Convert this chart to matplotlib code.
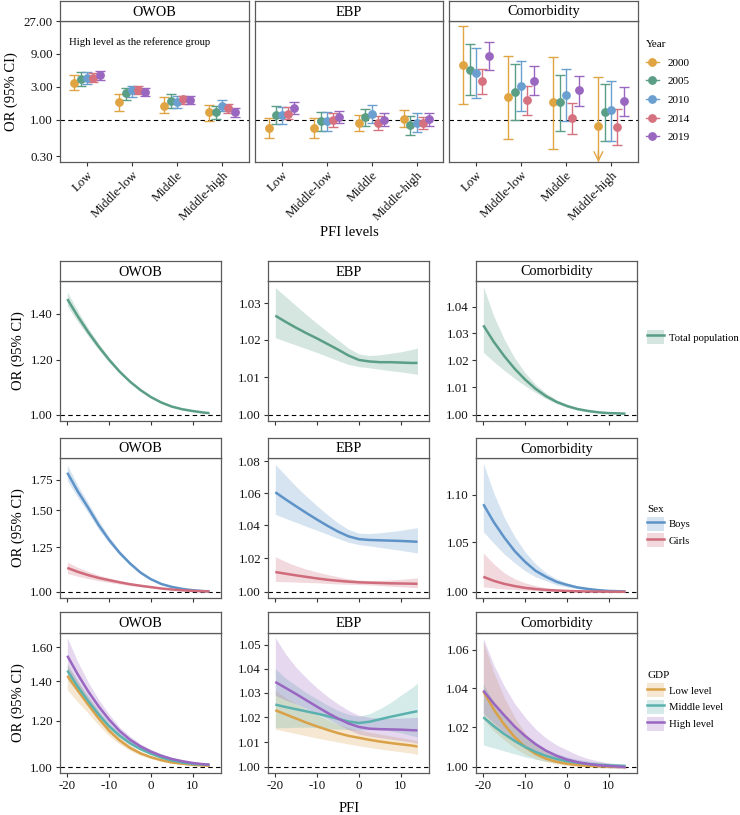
import numpy as np
import matplotlib
matplotlib.use('Agg')
import matplotlib.pyplot as plt
from matplotlib.lines import Line2D
from matplotlib.patches import Patch
from matplotlib.ticker import FixedLocator, NullLocator, FixedFormatter

plt.rcParams['font.family'] = ['Liberation Serif', 'DejaVu Serif']
plt.rcParams['font.size'] = 9

# ---------------- data: top row (OR by PFI level and year) ----------------
outcomes = ['OWOB', 'EBP', 'Comorbidity']
pfi_levels = ['Low', 'Middle-low', 'Middle', 'Middle-high']
years = ['2000', '2005', '2010', '2014', '2019']
year_colors = ['#E0A443', '#5A9E85', '#6A9FD0', '#D6717F', '#9A67C0']

owob_or = [[3.48, 1.82, 1.62, 1.29], [3.93, 2.42, 1.88, 1.30], [4.02, 2.67, 1.84, 1.59],
           [4.10, 2.73, 1.98, 1.47], [4.49, 2.58, 1.96, 1.29]]
owob_lo = [[2.70, 1.36, 1.25, 0.98], [3.12, 1.96, 1.49, 1.045], [3.30, 2.17, 1.49, 1.33],
           [3.50, 2.34, 1.72, 1.27], [3.84, 2.24, 1.72, 1.12]]
owob_hi = [[4.49, 2.34, 2.12, 1.66], [5.00, 2.95, 2.34, 1.61], [4.90, 3.15, 2.24, 1.94],
           [4.80, 3.09, 2.26, 1.70], [5.10, 2.95, 2.24, 1.50]]

ebp_or = [[0.776, 0.767, 0.916, 1.045], [1.18, 0.957, 1.092, 0.838], [1.18, 0.957, 1.23, 0.916],
          [1.23, 1.00, 0.916, 0.916], [1.47, 1.092, 1.011, 1.033]]
ebp_lo = [[0.557, 0.557, 0.702, 0.793], [0.876, 0.694, 0.82, 0.609], [0.876, 0.694, 0.916, 0.672],
          [1.02, 0.784, 0.718, 0.734], [1.23, 0.896, 0.82, 0.829]]
ebp_hi = [[1.056, 1.056, 1.18, 1.377], [1.59, 1.32, 1.456, 1.13], [1.52, 1.32, 1.64, 1.26],
          [1.52, 1.247, 1.14, 1.116], [1.84, 1.36, 1.247, 1.26]]

com_or = [[6.18, 2.12, 1.80, 0.82], [5.35, 2.56, 1.80, 1.29], [4.80, 3.09, 2.31, 1.38],
          [3.64, 1.96, 1.06, 0.80], [8.42, 3.72, 2.67, 1.88]]
com_lo = [[1.68, 0.527, 0.38, 0.15], [2.29, 1.00, 0.69, 0.49], [2.10, 1.35, 0.96, 0.50],
          [2.34, 1.19, 0.62, 0.43], [5.35, 2.29, 1.62, 1.13]]
com_hi = [[22.7, 8.42, 8.15, 4.25], [12.5, 6.50, 4.54, 3.33], [11.0, 7.06, 5.47, 3.64],
          [5.55, 3.09, 1.76, 1.46], [13.2, 6.00, 4.35, 3.02]]

top_yticks = [0.3, 1, 3, 9, 27]
top_ylabels = ['0.30', '1.00', '3.00', '9.00', '27.00']

# ---------------- data: dose-response curves ----------------
pfi = [-20, -17.5, -15, -12.5, -10, -7.5, -5, -2.5, 0, 2.5, 5, 7.5, 10, 12.5, 14]

# Total population
tot_owob = [1.469, 1.387, 1.316, 1.254, 1.200, 1.154, 1.116, 1.085, 1.060, 1.041, 1.027, 1.018, 1.012, 1.007, 1.005]
tot_owob_hi = [1.505, 1.412, 1.334, 1.267, 1.209, 1.160, 1.120, 1.088, 1.063, 1.044, 1.029, 1.020, 1.014, 1.009, 1.007]
tot_owob_lo = [1.435, 1.362, 1.298, 1.241, 1.191, 1.148, 1.112, 1.082, 1.057, 1.038, 1.025, 1.016, 1.010, 1.005, 1.003]
tot_ebp = [1.0266, 1.0249, 1.0233, 1.0218, 1.0204, 1.0189, 1.0174, 1.0158, 1.0146, 1.0142, 1.0140, 1.0140, 1.0139, 1.0138, 1.0138]
tot_ebp_hi = [1.0343, 1.0318, 1.0293, 1.0268, 1.0245, 1.0222, 1.0200, 1.0178, 1.0162, 1.0158, 1.0160, 1.0164, 1.0168, 1.0174, 1.0178]
tot_ebp_lo = [1.0206, 1.0196, 1.0186, 1.0176, 1.0166, 1.0155, 1.0144, 1.0134, 1.0128, 1.0125, 1.0121, 1.0117, 1.0114, 1.0110, 1.0107]
tot_com = [1.033, 1.0268, 1.0215, 1.0168, 1.0128, 1.0094, 1.0067, 1.0046, 1.0031, 1.0020, 1.0013, 1.0008, 1.0005, 1.0004, 1.0003]
tot_com_hi = [1.0477, 1.0365, 1.0278, 1.0208, 1.0153, 1.0110, 1.0078, 1.0054, 1.0037, 1.0025, 1.0016, 1.0010, 1.0007, 1.0005, 1.0004]
tot_com_lo = [1.0229, 1.0194, 1.0162, 1.0132, 1.0105, 1.0080, 1.0058, 1.0040, 1.0026, 1.0016, 1.0010, 1.0006, 1.0004, 1.0003, 1.0002]

# Sex
boys_owob = [1.81, 1.650, 1.520, 1.395, 1.295, 1.215, 1.152, 1.101, 1.065, 1.040, 1.025, 1.015, 1.008, 1.004, 1.003]
boys_owob_hi = [1.88, 1.700, 1.558, 1.425, 1.315, 1.228, 1.162, 1.108, 1.069, 1.043, 1.027, 1.017, 1.010, 1.006, 1.005]
boys_owob_lo = [1.74, 1.600, 1.482, 1.365, 1.275, 1.202, 1.142, 1.094, 1.061, 1.037, 1.023, 1.013, 1.006, 1.003, 1.001]
girls_owob = [1.127, 1.105, 1.087, 1.072, 1.060, 1.049, 1.039, 1.031, 1.024, 1.017, 1.012, 1.008, 1.005, 1.003, 1.002]
girls_owob_hi = [1.16, 1.13, 1.107, 1.087, 1.072, 1.058, 1.046, 1.036, 1.028, 1.020, 1.014, 1.010, 1.007, 1.005, 1.004]
girls_owob_lo = [1.096, 1.081, 1.068, 1.057, 1.048, 1.040, 1.032, 1.026, 1.020, 1.014, 1.010, 1.006, 1.003, 1.001, 1.000]
boys_ebp = [1.0605, 1.0560, 1.0517, 1.0475, 1.0435, 1.0397, 1.0362, 1.0333, 1.0316, 1.0311, 1.0309, 1.0307, 1.0305, 1.0302, 1.0300]
boys_ebp_hi = [1.078, 1.071, 1.064, 1.0578, 1.052, 1.0465, 1.0415, 1.0375, 1.0352, 1.0350, 1.0355, 1.0362, 1.0370, 1.0380, 1.0386]
boys_ebp_lo = [1.0468, 1.0442, 1.0418, 1.0393, 1.0370, 1.0345, 1.0320, 1.0297, 1.0283, 1.0275, 1.0266, 1.0257, 1.0248, 1.0238, 1.0232]
girls_ebp = [1.0118, 1.0108, 1.0098, 1.0089, 1.0080, 1.0072, 1.0066, 1.0061, 1.0057, 1.0055, 1.0053, 1.0051, 1.0050, 1.0049, 1.0048]
girls_ebp_hi = [1.021, 1.018, 1.0155, 1.0135, 1.0118, 1.0103, 1.0090, 1.0078, 1.0070, 1.0068, 1.0069, 1.0071, 1.0075, 1.0080, 1.0084]
girls_ebp_lo = [1.0062, 1.0060, 1.0058, 1.0056, 1.0054, 1.0050, 1.0047, 1.0045, 1.0044, 1.0041, 1.0038, 1.0034, 1.0031, 1.0027, 1.0025]
boys_com = [1.090, 1.071, 1.055, 1.041, 1.030, 1.021, 1.015, 1.010, 1.007, 1.0045, 1.003, 1.0018, 1.001, 1.0007, 1.0005]
boys_com_hi = [1.135, 1.102, 1.076, 1.056, 1.040, 1.028, 1.019, 1.013, 1.009, 1.0058, 1.0038, 1.0024, 1.0015, 1.0010, 1.0008]
boys_com_lo = [1.061, 1.049, 1.038, 1.029, 1.021, 1.015, 1.011, 1.007, 1.005, 1.0032, 1.0022, 1.0012, 1.0006, 1.0004, 1.0002]
girls_com = [1.015, 1.011, 1.008, 1.0058, 1.004, 1.0029, 1.002, 1.0014, 1.001, 1.0007, 1.0005, 1.0004, 1.0003, 1.0002, 1.0002]
girls_com_hi = [1.039, 1.028, 1.019, 1.013, 1.009, 1.0062, 1.0043, 1.003, 1.0021, 1.0015, 1.0011, 1.0008, 1.0006, 1.0005, 1.0004]
girls_com_lo = [1.005, 1.004, 1.003, 1.0024, 1.0018, 1.0013, 1.0009, 1.0006, 1.0004, 1.0002, 1.0001, 1.0001, 1.0000, 1.0000, 1.0000]

# GDP
low_owob = [1.43, 1.35, 1.277, 1.210, 1.153, 1.110, 1.078, 1.055, 1.039, 1.027, 1.018, 1.013, 1.009, 1.006, 1.005]
low_owob_hi = [1.49, 1.40, 1.315, 1.240, 1.175, 1.126, 1.089, 1.063, 1.045, 1.031, 1.021, 1.015, 1.011, 1.008, 1.007]
low_owob_lo = [1.354, 1.29, 1.235, 1.178, 1.130, 1.094, 1.067, 1.047, 1.033, 1.023, 1.015, 1.010, 1.007, 1.004, 1.003]
mid_owob = [1.46, 1.37, 1.294, 1.228, 1.173, 1.131, 1.098, 1.073, 1.054, 1.038, 1.026, 1.018, 1.012, 1.010, 1.009]
mid_owob_hi = [1.50, 1.40, 1.32, 1.25, 1.19, 1.145, 1.108, 1.081, 1.060, 1.042, 1.030, 1.021, 1.015, 1.012, 1.011]
mid_owob_lo = [1.41, 1.34, 1.27, 1.206, 1.157, 1.120, 1.089, 1.066, 1.048, 1.034, 1.022, 1.015, 1.009, 1.007, 1.006]
high_owob = [1.547, 1.438, 1.345, 1.268, 1.204, 1.152, 1.113, 1.084, 1.062, 1.045, 1.032, 1.023, 1.016, 1.011, 1.009]
high_owob_hi = [1.66, 1.51, 1.395, 1.302, 1.230, 1.170, 1.128, 1.095, 1.072, 1.053, 1.038, 1.028, 1.020, 1.015, 1.013]
high_owob_lo = [1.45, 1.365, 1.298, 1.233, 1.178, 1.134, 1.098, 1.073, 1.053, 1.038, 1.027, 1.018, 1.012, 1.006, 1.005]
low_ebp = [1.0229, 1.0212, 1.0195, 1.0178, 1.0163, 1.0149, 1.0136, 1.0125, 1.0117, 1.0109, 1.0102, 1.0096, 1.0091, 1.0086, 1.0082]
low_ebp_hi = [1.031, 1.028, 1.0255, 1.0232, 1.021, 1.019, 1.0172, 1.0158, 1.0148, 1.0140, 1.0132, 1.0125, 1.0118, 1.0110, 1.0105]
low_ebp_lo = [1.0152, 1.0143, 1.0134, 1.0125, 1.0116, 1.0108, 1.0100, 1.0092, 1.0085, 1.0078, 1.0072, 1.0066, 1.0061, 1.0055, 1.0050]
mid_ebp = [1.0252, 1.0242, 1.0233, 1.0224, 1.0215, 1.0205, 1.0194, 1.0183, 1.0177, 1.0182, 1.0192, 1.0202, 1.0211, 1.0220, 1.0225]
mid_ebp_hi = [1.040, 1.036, 1.033, 1.030, 1.0275, 1.025, 1.0228, 1.0212, 1.0205, 1.0215, 1.0235, 1.026, 1.029, 1.032, 1.034]
mid_ebp_lo = [1.0158, 1.0158, 1.0160, 1.0160, 1.0158, 1.0155, 1.0152, 1.0150, 1.0148, 1.0150, 1.0150, 1.0145, 1.0137, 1.0127, 1.0120]
high_ebp = [1.0345, 1.032, 1.0295, 1.0269, 1.0243, 1.0218, 1.0195, 1.0175, 1.0161, 1.0154, 1.0152, 1.0151, 1.0150, 1.0148, 1.0147]
high_ebp_hi = [1.053, 1.046, 1.0405, 1.036, 1.032, 1.0285, 1.0255, 1.0228, 1.0208, 1.0200, 1.0196, 1.0196, 1.0197, 1.0199, 1.0200]
high_ebp_lo = [1.029, 1.027, 1.0255, 1.0235, 1.0215, 1.0195, 1.0172, 1.0150, 1.0132, 1.0124, 1.0118, 1.0112, 1.0106, 1.0100, 1.0095]
low_com = [1.0383, 1.0290, 1.0213, 1.0150, 1.0100, 1.0065, 1.0041, 1.0026, 1.0016, 1.0010, 1.0006, 1.0004, 1.0002, 1.0001, 1.0000]
low_com_hi = [1.064, 1.048, 1.035, 1.025, 1.017, 1.0115, 1.0078, 1.0053, 1.0037, 1.0026, 1.0019, 1.0014, 1.0010, 1.0008, 1.0007]
low_com_lo = [1.024, 1.018, 1.0135, 1.0095, 1.0063, 1.0041, 1.0026, 1.0015, 1.0008, 1.0003, 1.0000, 0.9997, 0.9995, 0.9993, 0.9992]
mid_com = [1.025, 1.0205, 1.0165, 1.013, 1.0100, 1.0075, 1.0055, 1.0040, 1.0029, 1.0021, 1.0015, 1.0011, 1.0008, 1.0006, 1.0005]
mid_com_hi = [1.042, 1.033, 1.026, 1.020, 1.0155, 1.0118, 1.0088, 1.0066, 1.005, 1.0038, 1.003, 1.0024, 1.002, 1.0017, 1.0015]
mid_com_lo = [1.011, 1.0095, 1.008, 1.0065, 1.005, 1.0038, 1.0028, 1.002, 1.0013, 1.0008, 1.0004, 1.0001, 0.9999, 0.9997, 0.9996]
high_com = [1.0387, 1.032, 1.026, 1.0203, 1.0155, 1.0114, 1.0081, 1.0056, 1.0037, 1.0024, 1.0015, 1.0009, 1.0005, 1.0002, 1.0000]
high_com_hi = [1.066, 1.052, 1.041, 1.032, 1.025, 1.019, 1.0145, 1.011, 1.0085, 1.006, 1.0042, 1.003, 1.002, 1.0014, 1.001]
high_com_lo = [1.027, 1.022, 1.0175, 1.0135, 1.0102, 1.0075, 1.0052, 1.0035, 1.0022, 1.0012, 1.0005, 1.0000, 0.9996, 0.9993, 0.999]

total_label = 'Total population'
sex_labels = ['Boys', 'Girls']
gdp_labels = ['Low level', 'Middle level', 'High level']
total_color = '#5A9E85'
sex_colors = ['#5E93C8', '#CF6B7B']
gdp_colors = ['#D9A148', '#5BB1AE', '#9966C2']

# y ticks for curve panels
row_yticks = {
    'total': ([1.00, 1.20, 1.40], [1.00, 1.01, 1.02, 1.03], [1.00, 1.01, 1.02, 1.03, 1.04]),
    'sex': ([1.00, 1.25, 1.50, 1.75], [1.00, 1.02, 1.04, 1.06, 1.08], [1.00, 1.05, 1.10]),
    'gdp': ([1.00, 1.20, 1.40, 1.60], [1.00, 1.01, 1.02, 1.03, 1.04, 1.05], [1.00, 1.02, 1.04, 1.06]),
}
row_ylims = {
    'total': ((0.979, 1.56), (0.99829, 1.0361), (0.99764, 1.0498)),
    'sex': ((0.970, 1.948), (0.99645, 1.0821), (0.9941, 1.1406)),
    'gdp': ((0.9768, 1.6913), (0.9976, 1.0549), (0.99702, 1.0688)),
}
x_ticks = [-20, -10, 0, 10]

# ---------------- layout ----------------
W, H = 740, 815
fig = plt.figure(figsize=(W / 100, H / 100), dpi=100)
BORDER = '#5a5a5a'
TICKC = '#333333'
STRIP_FS = 10.3
YLAB_FS = 10.5
LEG_FS = 7.7


def ax_px(x0, x1, y0, y1):
    return fig.add_axes([x0 / W, 1 - y1 / H, (x1 - x0) / W, (y1 - y0) / H])


def style_axes(ax):
    for sp in ax.spines.values():
        sp.set_color(BORDER)
        sp.set_linewidth(0.9)
    ax.tick_params(direction='out', length=3, width=0.8, color=TICKC, labelsize=9.3,
                   labelcolor='#111111', pad=2)


def strip(x0, x1, y0, y1, label):
    s = ax_px(x0, x1, y0, y1)
    s.set_xticks([])
    s.set_yticks([])
    for sp in s.spines.values():
        sp.set_color(BORDER)
        sp.set_linewidth(0.9)
    s.text(0.5, 0.45, label, ha='center', va='center', fontsize=STRIP_FS, transform=s.transAxes)


# ---- top row ----
top_cols = [(60, 249), (255, 443.5), (449, 638)]
top_y = (21, 162)
top_data = [(owob_or, owob_lo, owob_hi), (ebp_or, ebp_lo, ebp_hi), (com_or, com_lo, com_hi)]
offsets = [-0.28, -0.14, 0.0, 0.14, 0.28]
ymin_top, ymax_top = 0.247, 27
for j, (x0, x1) in enumerate(top_cols):
    ax = ax_px(x0, x1, top_y[0], top_y[1])
    strip(x0, x1, 1, top_y[0], outcomes[j])
    est, lo, hi = top_data[j]
    ax.set_yscale('log')
    ax.set_xlim(0.4, 4.6)
    ax.set_ylim(ymin_top, ymax_top)
    ax.axhline(1, color='black', ls=(0, (4, 3)), lw=0.8, zorder=1)
    for k in range(len(years)):
        xs = np.arange(1, len(pfi_levels) + 1) + offsets[k]
        e = np.array(est[k]); l = np.array(lo[k]); h = np.array(hi[k])
        ax.errorbar(xs, e, yerr=[e - l, h - e], fmt='o', color=year_colors[k], ms=5.3,
                    capsize=3.5, elinewidth=1.0, capthick=1.0, zorder=3)
        for xi, li, ei in zip(xs, l, e):
            if li < ymin_top:
                ax.annotate('', xy=(xi, ymin_top), xytext=(xi, ymin_top * 1.45),
                            arrowprops=dict(arrowstyle='->,head_length=0.7,head_width=0.35',
                                            color=year_colors[k], lw=1.0, shrinkA=0, shrinkB=0),
                            annotation_clip=False)
    ax.set_xticks(range(1, len(pfi_levels) + 1))
    ax.set_xticklabels(pfi_levels, rotation=45, ha='right', rotation_mode='anchor')
    ax.yaxis.set_major_locator(FixedLocator(top_yticks))
    ax.yaxis.set_minor_locator(NullLocator())
    style_axes(ax)
    if j == 0:
        ax.yaxis.set_major_formatter(FixedFormatter(top_ylabels))
        ax.set_ylabel('OR (95% CI)', fontsize=YLAB_FS, labelpad=4)
        ax.text(0.05, 0.85, 'High level as the reference group', transform=ax.transAxes,
                fontsize=7.7, ha='left', va='center')
    else:
        ax.set_yticklabels([])
        ax.tick_params(axis='y', length=0)

fig.text(349 / W, 1 - 233 / H, 'PFI levels', ha='center', va='center', fontsize=10.5)

yh = [Line2D([0], [0], color=c, marker='o', ms=5.3, lw=1.0) for c in year_colors]
fig.legend(yh, years, title='Year', loc='upper left', bbox_to_anchor=(646 / W, 1 - 40 / H),
           frameon=False, fontsize=LEG_FS + 0.3, title_fontsize=LEG_FS + 0.3, handlelength=1.15,
           handletextpad=0.8, labelspacing=0.8, borderpad=0, borderaxespad=0, alignment='left')

# ---- curve rows ----
cols = [(60, 221), (268, 429), (476, 637)]
rows = [('total', 261, 281, 421), ('sex', 438, 458, 598), ('gdp', 612, 633, 773)]
row_series = {
    'total': [[(tot_owob, tot_owob_lo, tot_owob_hi, total_color)],
              [(tot_ebp, tot_ebp_lo, tot_ebp_hi, total_color)],
              [(tot_com, tot_com_lo, tot_com_hi, total_color)]],
    'sex': [[(boys_owob, boys_owob_lo, boys_owob_hi, sex_colors[0]),
             (girls_owob, girls_owob_lo, girls_owob_hi, sex_colors[1])],
            [(boys_ebp, boys_ebp_lo, boys_ebp_hi, sex_colors[0]),
             (girls_ebp, girls_ebp_lo, girls_ebp_hi, sex_colors[1])],
            [(boys_com, boys_com_lo, boys_com_hi, sex_colors[0]),
             (girls_com, girls_com_lo, girls_com_hi, sex_colors[1])]],
    'gdp': [[(low_owob, low_owob_lo, low_owob_hi, gdp_colors[0]),
             (mid_owob, mid_owob_lo, mid_owob_hi, gdp_colors[1]),
             (high_owob, high_owob_lo, high_owob_hi, gdp_colors[2])],
            [(low_ebp, low_ebp_lo, low_ebp_hi, gdp_colors[0]),
             (mid_ebp, mid_ebp_lo, mid_ebp_hi, gdp_colors[1]),
             (high_ebp, high_ebp_lo, high_ebp_hi, gdp_colors[2])],
            [(low_com, low_com_lo, low_com_hi, gdp_colors[0]),
             (mid_com, mid_com_lo, mid_com_hi, gdp_colors[1]),
             (high_com, high_com_lo, high_com_hi, gdp_colors[2])]],
}

for key, ys, yt, yb in rows:
    for j, (x0, x1) in enumerate(cols):
        ax = ax_px(x0, x1, yt, yb)
        strip(x0, x1, ys, yt, outcomes[j])
        ax.set_yscale('log')
        ax.set_xlim(-21.75, 16.75)
        ax.set_ylim(*row_ylims[key][j])
        ax.axhline(1, color='black', ls=(0, (4, 3)), lw=0.8, zorder=1)
        series = row_series[key][j]
        for est, lo, hi, c in series:
            ax.fill_between(pfi, lo, hi, color=c, alpha=0.25, lw=0, zorder=2)
        for est, lo, hi, c in series:
            ax.plot(pfi, est, color=c, lw=1.8, zorder=3, solid_capstyle='butt',
                    solid_joinstyle='round')
        tks = row_yticks[key][j]
        ax.yaxis.set_major_locator(FixedLocator(tks))
        ax.yaxis.set_major_formatter(FixedFormatter(['%.2f' % t for t in tks]))
        ax.yaxis.set_minor_locator(NullLocator())
        ax.set_xticks(x_ticks)
        style_axes(ax)
        if key == 'gdp':
            ax.set_xticklabels([str(t) for t in x_ticks])
        else:
            ax.set_xticklabels([])
        if j == 0:
            ax.set_ylabel('OR (95% CI)', fontsize=YLAB_FS, labelpad=4)

fig.text(349 / W, 1 - 808 / H, 'PFI', ha='center', va='center', fontsize=10.5)


def band_handle(c):
    return (Patch(facecolor=c, alpha=0.25, edgecolor='none'), Line2D([0], [0], color=c, lw=1.8))


leg_kw = dict(frameon=False, fontsize=LEG_FS, title_fontsize=LEG_FS + 0.3, handlelength=1.55,
              handleheight=1.6, handletextpad=0.5, labelspacing=0.28, borderpad=0,
              borderaxespad=0, alignment='left')
fig.legend([band_handle(total_color)], [total_label], loc='center left',
           bbox_to_anchor=(647 / W, 1 - 337 / H), **leg_kw)
fig.legend([band_handle(c) for c in sex_colors], sex_labels, title='Sex', loc='center left',
           bbox_to_anchor=(647 / W, 1 - 526 / H), **leg_kw)
fig.legend([band_handle(c) for c in gdp_colors], gdp_labels, title='GDP', loc='center left',
           bbox_to_anchor=(647 / W, 1 - 701 / H), **leg_kw)

fig.savefig('out.png', dpi=100)
